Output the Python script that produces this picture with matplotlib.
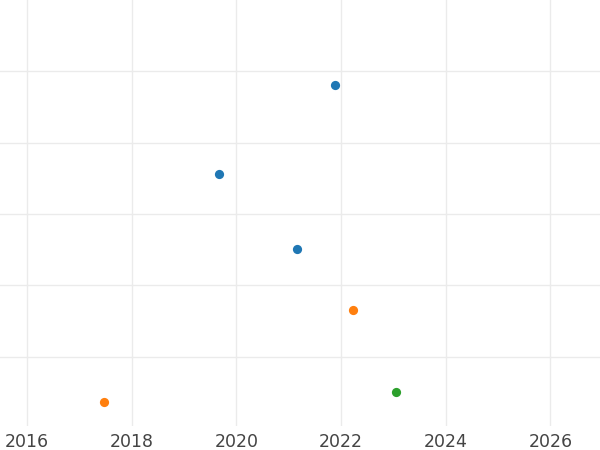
import matplotlib
matplotlib.use("Agg")
import matplotlib.pyplot as plt

# points (year, value), grouped by colour
blue_x = [2021.88, 2019.67, 2021.16]
blue_y = [4.81, 3.56, 2.51]
orange_x = [2022.23, 2017.47]
orange_y = [1.65, 0.36]
green_x = [2023.05]
green_y = [0.50]

year_ticks = [2016, 2018, 2020, 2022, 2024, 2026]

fig = plt.figure(figsize=(6, 4.5), dpi=100)
ax = fig.add_axes([0, 0.0533, 1, 0.9467])

ax.scatter(blue_x, blue_y, s=44, color="#1f77b4", zorder=3, linewidths=0)
ax.scatter(orange_x, orange_y, s=44, color="#ff7f0e", zorder=3, linewidths=0)
ax.scatter(green_x, green_y, s=44, color="#2ca02c", zorder=3, linewidths=0)

ax.set_xlim(2015.484, 2026.946)
ax.set_ylim(0.03, 6.0)
ax.set_xticks(year_ticks)
ax.set_yticks([1, 2, 3, 4, 5])
ax.set_yticklabels([])
ax.grid(True, color="#ebebeb", linewidth=1)
ax.set_axisbelow(True)
ax.tick_params(axis="both", length=0)
ax.tick_params(axis="x", labelsize=12.5, labelcolor="#444444", pad=5)
for s in ax.spines.values():
    s.set_visible(False)

fig.savefig("out.png", dpi=100)
